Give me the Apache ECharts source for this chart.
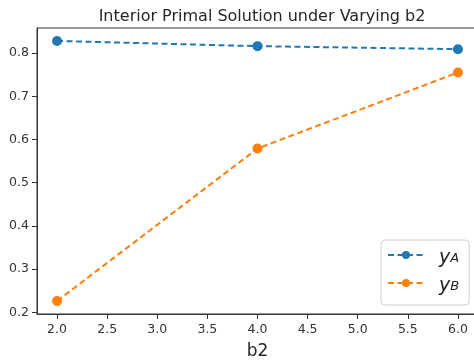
<!DOCTYPE html>
<html>
<head>
<meta charset="utf-8">
<script src="https://cdn.jsdelivr.net/npm/echarts@6/dist/echarts.min.js"></script>
<style>
  html, body { margin: 0; padding: 0; background: #fff; }
  #chart { width: 474px; height: 362px; }
</style>
</head>
<body>
<div id="chart"></div>
<script>
// data
var b2Values = [2.0, 4.0, 6.0];
var yAValues = [0.828, 0.816, 0.809];
var yBValues = [0.226, 0.579, 0.755];
var xTicks = [2.0, 2.5, 3.0, 3.5, 4.0, 4.5, 5.0, 5.5, 6.0];
var yTicks = [0.2, 0.3, 0.4, 0.5, 0.6, 0.7, 0.8];

var font = 'DejaVu Sans';

function pairs(xs, ys) {
  var out = [];
  for (var i = 0; i < xs.length; i++) out.push([xs[i], ys[i]]);
  return out;
}

function makeSeries(name, color, values) {
  return {
    name: name,
    type: 'line',
    data: pairs(b2Values, values),
    symbol: 'circle',
    symbolSize: 10,
    itemStyle: { color: color },
    lineStyle: { color: color, width: 2, type: [6, 3.5] },
    emphasis: { disabled: true },
    animation: false
  };
}

var chart = echarts.init(document.getElementById('chart'));
chart.setOption({
  backgroundColor: '#fff',
  title: {
    text: 'Interior Primal Solution under Varying b2',
    left: 257,
    textAlign: 'center',
    top: 4,
    textStyle: { fontFamily: font, fontSize: 16, fontWeight: 'normal', color: '#262626' }
  },
  grid: {
    left: 37, top: 28, width: 441, bottom: 48,
    outerBoundsMode: 'none',
    containLabel: false,
    show: true, borderColor: '#333', borderWidth: 1
  },
  legend: {
    left: 381, top: 240,
    orient: 'vertical',
    padding: [9, 10, 9, 6],
    itemWidth: 36, itemHeight: 10,
    itemGap: 9,
    borderColor: '#d0d0d0', borderWidth: 1, borderRadius: 4,
    data: ['yA', 'yB'],
    formatter: function (name) {
      return '{y|y}{s|' + name.charAt(1) + '}';
    },
    textStyle: {
      padding: [0, 0, 0, 10],
      rich: {
        y: { fontFamily: font, fontStyle: 'italic', fontSize: 19, color: '#222', height: 22, verticalAlign: 'bottom' },
        s: { fontFamily: font, fontStyle: 'italic', fontSize: 13, color: '#222', height: 22, padding: [7, 0, 0, 0], verticalAlign: 'bottom' }
      }
    }
  },
  xAxis: {
    type: 'value',
    min: 1.8, max: 6.2,
    name: 'b2',
    nameLocation: 'middle',
    nameGap: 29,
    nameTextStyle: { fontFamily: font, fontSize: 17, color: '#262626' },
    splitLine: { show: false },
    axisLine: { onZero: false, lineStyle: { color: '#333' } },
    axisTick: { customValues: xTicks, length: 5, lineStyle: { color: '#333' } },
    axisLabel: {
      customValues: xTicks, margin: 9,
      fontFamily: font, fontSize: 12.5, color: '#333',
      formatter: function (v) { return v.toFixed(1); }
    }
  },
  yAxis: {
    type: 'value',
    min: 0.196, max: 0.858,
    splitLine: { show: false },
    axisLine: { show: true, onZero: false, lineStyle: { color: '#333' } },
    axisTick: { show: true, customValues: yTicks, length: 5, lineStyle: { color: '#333' } },
    axisLabel: {
      customValues: yTicks, margin: 8,
      fontFamily: font, fontSize: 12.5, color: '#333',
      formatter: function (v) { return v.toFixed(1); }
    }
  },
  series: [
    makeSeries('yA', '#1f77b4', yAValues),
    makeSeries('yB', '#ff7f0e', yBValues)
  ]
});
</script>
</body>
</html>
